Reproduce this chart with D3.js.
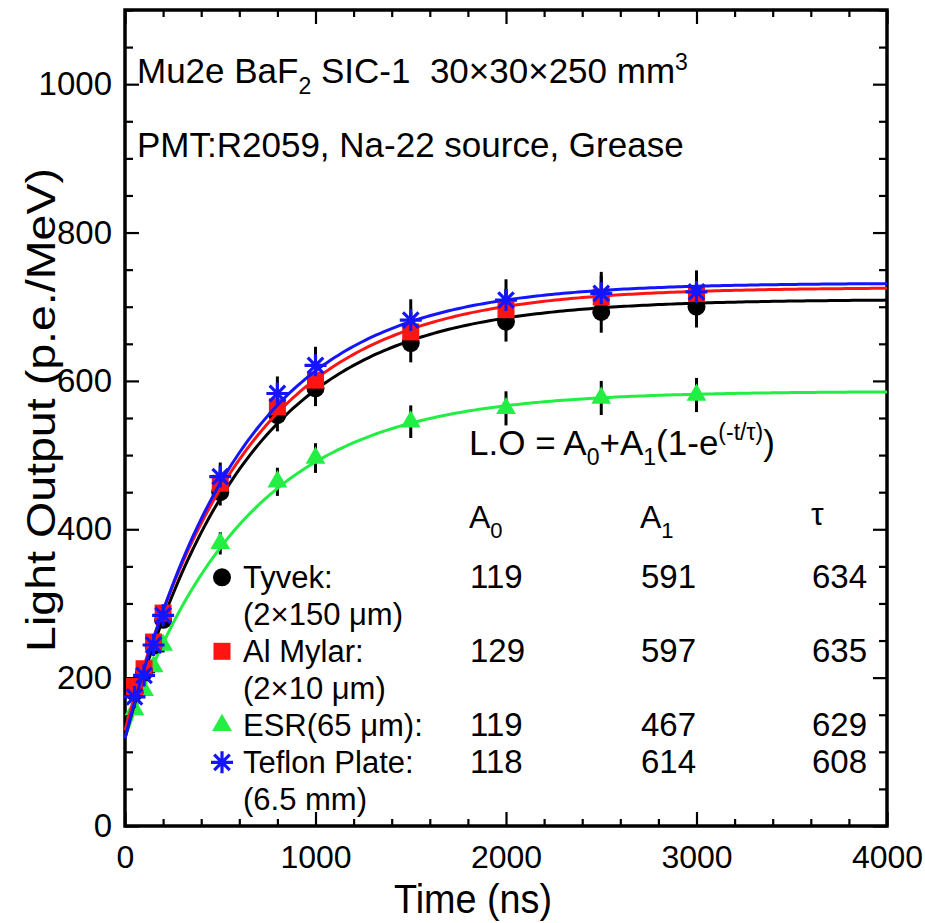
<!DOCTYPE html>
<html><head><meta charset="utf-8">
<script src="https://cdn.jsdelivr.net/npm/d3@7"></script>
<style>body{margin:0;background:#fff} text{font-family:"Liberation Sans",Arial,Helvetica,sans-serif;fill:#000}</style>
</head><body><svg id="c" width="925" height="923"></svg>
<script>
// ---- data ----
const times = [50, 100, 150, 200, 500, 800, 1000, 1500, 2000, 2500, 3000];
const tyvekLO  = [180, 207, 243, 278, 450, 554, 590, 651, 680, 693, 700];
const mylarLO  = [188, 212, 248, 287, 462, 565, 601, 666, 696, 713, 718];
const esrLO    = [157, 183, 215, 244, 381, 464, 496, 545, 563, 577, 581];
const teflonLO = [174, 203, 244, 284, 471, 583, 621, 682, 709, 718, 720];
const tyvekErr  = [7, 8, 10, 11, 18, 22, 24, 26, 27, 28, 28];
const mylarErr  = [8, 8, 10, 11, 18, 23, 24, 27, 28, 29, 29];
const esrErr    = [6, 7, 9, 10, 15, 19, 20, 22, 23, 23, 23];
const teflonErr = [7, 8, 10, 11, 19, 23, 25, 28, 28, 29, 29];
// fit parameters (Tyvek, Al Mylar, ESR, Teflon)
const seriesNames = ["Tyvek:", "Al Mylar:", "ESR(65 \u03bcm):", "Teflon Plate:"];
const seriesSub   = ["(2\u00d7150 \u03bcm)", "(2\u00d710 \u03bcm)", null, "(6.5 mm)"];
const fitA0  = [119, 129, 119, 118];
const fitA1  = [591, 597, 467, 614];
const fitTau = [634, 635, 629, 608];
const xMajorTicks = [0, 1000, 2000, 3000, 4000];
const yMajorTicks = [0, 200, 400, 600, 800, 1000];

const colors = ["#000000", "#ff1414", "#22ee44", "#1414ff"];
const shapes = ["circle", "square", "triangle", "star"];
const values = [tyvekLO, mylarLO, esrLO, teflonLO];
const errs = [tyvekErr, mylarErr, esrErr, teflonErr];

const svg = d3.select("#c");
const L = 125, R = 887, T = 10, B = 826;
const x = d3.scaleLinear().domain([0, 4000]).range([L, R]);
const y = d3.scaleLinear().domain([0, 1100]).range([B, T]);
const FONT = '"Liberation Sans",Arial,sans-serif';

// axes (ticks inward on all four sides)
const minorX = d3.range(0, 4001, 200).filter(v => v % 1000 !== 0);
const minorY = d3.range(0, 1101, 50).filter(v => v % 200 !== 0);
function styleAxis(g) {
  g.select(".domain").remove();
  g.selectAll(".tick line").attr("stroke", "#000").attr("stroke-width", 2.2);
}
svg.append("g").attr("transform", `translate(0,${B})`)
  .call(d3.axisBottom(x).tickValues(xMajorTicks).tickSizeInner(-14).tickSizeOuter(0).tickPadding(19).tickFormat(d3.format("d")))
  .call(styleAxis)
  .call(g => g.selectAll("text").attr("font-size", 32).attr("font-family", FONT).attr("dy", "0.71em"));
svg.append("g").attr("transform", `translate(0,${B})`)
  .call(d3.axisBottom(x).tickValues(minorX).tickSizeInner(-7).tickSizeOuter(0).tickFormat("")).call(styleAxis);
svg.append("g").attr("transform", `translate(0,${T})`)
  .call(d3.axisTop(x).tickValues(xMajorTicks).tickSizeInner(-14).tickSizeOuter(0).tickFormat("")).call(styleAxis);
svg.append("g").attr("transform", `translate(0,${T})`)
  .call(d3.axisTop(x).tickValues(minorX).tickSizeInner(-7).tickSizeOuter(0).tickFormat("")).call(styleAxis);
svg.append("g").attr("transform", `translate(${L},0)`)
  .call(d3.axisLeft(y).tickValues(yMajorTicks).tickSizeInner(-14).tickSizeOuter(0).tickPadding(13).tickFormat(d3.format("d")))
  .call(styleAxis)
  .call(g => g.selectAll("text").attr("font-size", 33).attr("font-family", FONT));
svg.append("g").attr("transform", `translate(${L},0)`)
  .call(d3.axisLeft(y).tickValues(minorY).tickSizeInner(-8).tickSizeOuter(0).tickFormat("")).call(styleAxis);
svg.append("g").attr("transform", `translate(${R},0)`)
  .call(d3.axisRight(y).tickValues(yMajorTicks).tickSizeInner(-14).tickSizeOuter(0).tickFormat("")).call(styleAxis);
svg.append("g").attr("transform", `translate(${R},0)`)
  .call(d3.axisRight(y).tickValues(minorY).tickSizeInner(-8).tickSizeOuter(0).tickFormat("")).call(styleAxis);
svg.append("rect").attr("x", L).attr("y", T).attr("width", R - L).attr("height", B - T)
  .attr("fill", "none").attr("stroke", "#000").attr("stroke-width", 3.5);

// axis titles
svg.append("text").attr("x", 473).attr("y", 913).attr("text-anchor", "middle")
  .attr("font-size", 41).attr("textLength", 158).attr("lengthAdjust", "spacingAndGlyphs").text("Time (ns)");
svg.append("text").attr("transform", "translate(55,410) rotate(-90)").attr("text-anchor", "middle")
  .attr("font-size", 41).attr("textLength", 484).attr("lengthAdjust", "spacingAndGlyphs").text("Light Output (p.e./MeV)");

// markers
const starPath = s => {
  const r = s / 2, d = r * Math.SQRT1_2;
  return `M${-r},0L${r},0M0,${-r}L0,${r}M${-d},${-d}L${d},${d}M${-d},${d}L${d},${-d}`;
};
function drawMarker(g, shape, color, cx, cy) {
  if (shape === "circle") g.append("circle").attr("cx", cx).attr("cy", cy).attr("r", 9).attr("fill", color);
  else if (shape === "square") g.append("rect").attr("x", cx - 8.5).attr("y", cy - 8.5).attr("width", 17).attr("height", 17).attr("fill", color);
  else if (shape === "triangle") g.append("path").attr("transform", `translate(${cx},${cy})`)
    .attr("d", d3.symbol(d3.symbolTriangle, 170)()).attr("fill", color);
  else g.append("path").attr("transform", `translate(${cx},${cy})`).attr("d", starPath(22))
    .attr("stroke", color).attr("stroke-width", 3.2).attr("fill", "none");
}

const drawOrder = [2, 0, 1, 3];
const tGrid = d3.range(0, 4001, 20);
const line = d3.line().x(d => x(d[0])).y(d => y(d[1]));

// error bars
const gErr = svg.append("g");
drawOrder.forEach(i => {
  times.forEach((t, k) => {
    gErr.append("line").attr("x1", x(t)).attr("x2", x(t))
      .attr("y1", y(values[i][k] - errs[i][k])).attr("y2", y(values[i][k] + errs[i][k]))
      .attr("stroke", "#000").attr("stroke-width", 3);
  });
});
drawOrder.forEach(i => {
  const fit = tGrid.map(t => [t, fitA0[i] + fitA1[i] * (1 - Math.exp(-t / fitTau[i]))]);
  svg.append("path").attr("d", line(fit)).attr("fill", "none").attr("stroke", colors[i]).attr("stroke-width", 3);
  const g = svg.append("g");
  times.forEach((t, k) => drawMarker(g, shapes[i], colors[i], x(t), y(values[i][k])));
});

// annotations
const t1 = svg.append("text").attr("x", 137).attr("y", 83).attr("font-size", 35);
t1.append("tspan").text("Mu2e BaF");
t1.append("tspan").attr("font-size", 23).attr("dy", 11).text("2");
t1.append("tspan").attr("dy", -11).text(" SIC-1\u00a0\u00a030\u00d730\u00d7250 mm");
t1.append("tspan").attr("font-size", 23).attr("dy", -13).text("3");
svg.append("text").attr("x", 137).attr("y", 157).attr("font-size", 35).text("PMT:R2059, Na-22 source, Grease");

const f = svg.append("text").attr("x", 469).attr("y", 455).attr("font-size", 35);
f.append("tspan").text("L.O = A");
f.append("tspan").attr("font-size", 23).attr("dy", 10).text("0");
f.append("tspan").attr("dy", -10).text("+A");
f.append("tspan").attr("font-size", 23).attr("dy", 10).text("1");
f.append("tspan").attr("dy", -10).text("(1-e");
f.append("tspan").attr("font-size", 23).attr("dy", -15).text("(-t/\u03c4)");
f.append("tspan").attr("dy", 15).text(")");

// table header
const colX = [469, 640, 811];
const h0 = svg.append("text").attr("x", colX[0]).attr("y", 528).attr("font-size", 32);
h0.append("tspan").text("A"); h0.append("tspan").attr("font-size", 22).attr("dy", 10).text("0");
const h1 = svg.append("text").attr("x", colX[1]).attr("y", 528).attr("font-size", 32);
h1.append("tspan").text("A"); h1.append("tspan").attr("font-size", 22).attr("dy", 10).text("1");
svg.append("text").attr("x", colX[2]).attr("y", 525).attr("font-size", 32).text("\u03c4");

// legend + table rows
const lineH = 37, base0 = 588.3;
let lineIdx = 0;
seriesNames.forEach((name, i) => {
  const by = base0 + lineH * lineIdx;
  const lg = svg.append("g");
  drawMarker(lg, shapes[i], colors[i], 222, by - 11);
  svg.append("text").attr("x", 243).attr("y", by).attr("font-size", 31).text(name);
  [fitA0[i], fitA1[i], fitTau[i]].forEach((v, c) =>
    svg.append("text").attr("x", colX[c] + 1).attr("y", by).attr("font-size", 33).text(v));
  lineIdx++;
  if (seriesSub[i]) {
    svg.append("text").attr("x", 243).attr("y", base0 + lineH * lineIdx).attr("font-size", 31).text(seriesSub[i]);
    lineIdx++;
  }
});
</script></body></html>
